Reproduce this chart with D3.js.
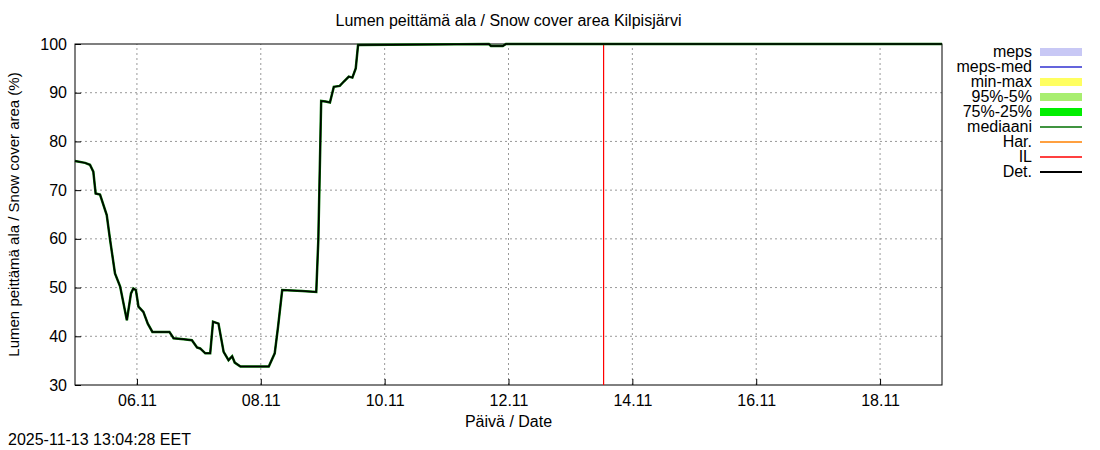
<!DOCTYPE html>
<html><head><meta charset="utf-8">
<script src="https://cdn.jsdelivr.net/npm/d3@7"></script>
<style>body{margin:0;background:#fff}text{font-family:"Liberation Sans",Arial,sans-serif;font-size:16px}</style>
</head><body><div class="board"></div>
<script>
var WIDTH = 1100, HEIGHT = 450;
var margin = {left: 75, right: 158, top: 44, bottom: 65};

// hours since 05.11 00:00
var detHours = [0,3.9,5.8,7.1,8.0,9.7,12.3,13.6,15.5,17.5,20.1,21.7,22.6,23.6,24.6,26.5,28.2,30.0,36.6,38.2,42.1,45.3,47.3,48.5,50.5,52.4,53.5,55.6,57.6,59.5,60.9,61.9,64.1,75.1,77.4,78.7,80.3,88.0,93.5,94.3,95.1,95.4,97.1,98.8,100.3,102.6,104.2,106.1,107.5,108.8,109.7,160.4,161.2,165.8,167.0,336];
var detValues = [76.0,75.6,75.2,73.8,69.3,69.1,64.9,59.8,52.9,50.2,43.3,48.8,49.8,49.5,46.1,45.0,42.6,40.9,40.9,39.6,39.4,39.2,37.7,37.5,36.5,36.5,43.0,42.6,36.8,35.1,35.9,34.6,33.8,33.8,36.5,42.0,49.5,49.3,49.1,59.8,80.3,88.3,88.2,88.0,91.2,91.4,92.3,93.3,93.1,95.0,99.8,100,99.6,99.6,100,100];
var xTickDates = ['2025-11-06','2025-11-08','2025-11-10','2025-11-12','2025-11-14','2025-11-16','2025-11-18'];
var yTicks = [30,40,50,60,70,80,90,100];
var ilTime = '2025-11-13T12:45';
var legendLabels = ['meps','meps-med','min-max','95%-5%','75%-25%','mediaani','Har.','IL','Det.'];
var legendColors = ['#c8c8f5','#3030d0','#ffff60','#a8ee70','#00ee00','#007000','#ff8000','#ff0000','#000000'];
var legendWidths = [8,1.5,8,8,8,1.5,1.5,1.5,2];

var start = new Date('2025-11-05T00:00');
var parseDay = d3.timeParse('%Y-%m-%d');
var points = detHours.map(function(h, i) {
  return {t: new Date(start.getTime() + h * 3600e3), v: detValues[i]};
});

var svg = d3.select('.board').append('svg').attr('width', WIDTH).attr('height', HEIGHT);
var x = d3.scaleTime().domain([start, new Date('2025-11-19T00:00')]).range([margin.left, WIDTH - margin.right]);
var y = d3.scaleLinear().domain([30, 100]).range([HEIGHT - margin.bottom, margin.top]);
var x0 = margin.left, x1 = WIDTH - margin.right, y0 = HEIGHT - margin.bottom, y1 = margin.top;

// grid
svg.append('g').selectAll('line').data(xTickDates).enter().append('line')
  .attr('x1', function(d) { return x(parseDay(d)); }).attr('x2', function(d) { return x(parseDay(d)); })
  .attr('y1', y0).attr('y2', y1).attr('stroke', '#999').attr('stroke-dasharray', '2,3');
svg.append('g').selectAll('line').data(yTicks.slice(1, -1)).enter().append('line')
  .attr('x1', x0).attr('x2', x1).attr('y1', y).attr('y2', y)
  .attr('stroke', '#999').attr('stroke-dasharray', '2,3');

// axes
var ax = svg.append('g').attr('transform', 'translate(0,' + y0 + ')')
  .call(d3.axisBottom(x).tickValues(xTickDates.map(parseDay)).tickFormat(d3.timeFormat('%d.%m')).tickSizeInner(-6).tickSizeOuter(0).tickPadding(10));
var ay = svg.append('g').attr('transform', 'translate(' + x0 + ',0)')
  .call(d3.axisLeft(y).tickValues(yTicks).tickSizeInner(-6).tickSizeOuter(0).tickPadding(8));
[ax, ay].forEach(function(g) {
  g.select('.domain').remove();
  g.selectAll('text').attr('font-size', 16).attr('fill', '#000').style('font-family', '"Liberation Sans",Arial,sans-serif');
  g.selectAll('line').attr('stroke', '#000');
});
svg.append('rect').attr('x', x0).attr('y', y1).attr('width', x1 - x0).attr('height', y0 - y1)
  .attr('fill', 'none').attr('stroke', '#000');

// IL line
svg.append('rect').attr('x', Math.round(x(new Date(ilTime)))).attr('width', 1.2)
  .attr('y', y1).attr('height', y0 - y1).attr('fill', 'rgb(255,0,0)');

// series
var line = d3.line().x(function(d) { return x(d.t); }).y(function(d) { return y(d.v); });
svg.append('path').datum(points).attr('d', line).attr('fill', 'none').attr('stroke', '#007000').attr('stroke-width', 2.5);
svg.append('path').datum(points).attr('d', line).attr('fill', 'none').attr('stroke', '#000').attr('stroke-width', 1.5);

// legend
var lg = svg.append('g').selectAll('g').data(legendLabels).enter().append('g')
  .attr('transform', function(d, i) { return 'translate(0,' + (52 + i * 15) + ')'; });
lg.append('text').attr('x', 1032).attr('y', 5).attr('text-anchor', 'end').text(function(d) { return d; });
lg.append('line').attr('x1', 1040).attr('x2', 1082).attr('y1', 0).attr('y2', 0)
  .attr('stroke', function(d, i) { return legendColors[i]; })
  .attr('stroke-width', function(d, i) { return legendWidths[i]; });

// texts
svg.append('text').attr('x', (x0 + x1) / 2).attr('y', 26).attr('text-anchor', 'middle').text('Lumen peittämä ala / Snow cover area Kilpisjärvi');
svg.append('text').attr('x', (x0 + x1) / 2).attr('y', 427).attr('text-anchor', 'middle').text('Päivä / Date');
svg.append('text').attr('transform', 'translate(19,' + ((y0 + y1) / 2) + ') rotate(-90)').attr('text-anchor', 'middle').style('font-size', '15px').text('Lumen peittämä ala / Snow cover area (%)');
svg.append('text').attr('x', 8).attr('y', 445).text('2025-11-13 13:04:28 EET');
</script></body></html>
